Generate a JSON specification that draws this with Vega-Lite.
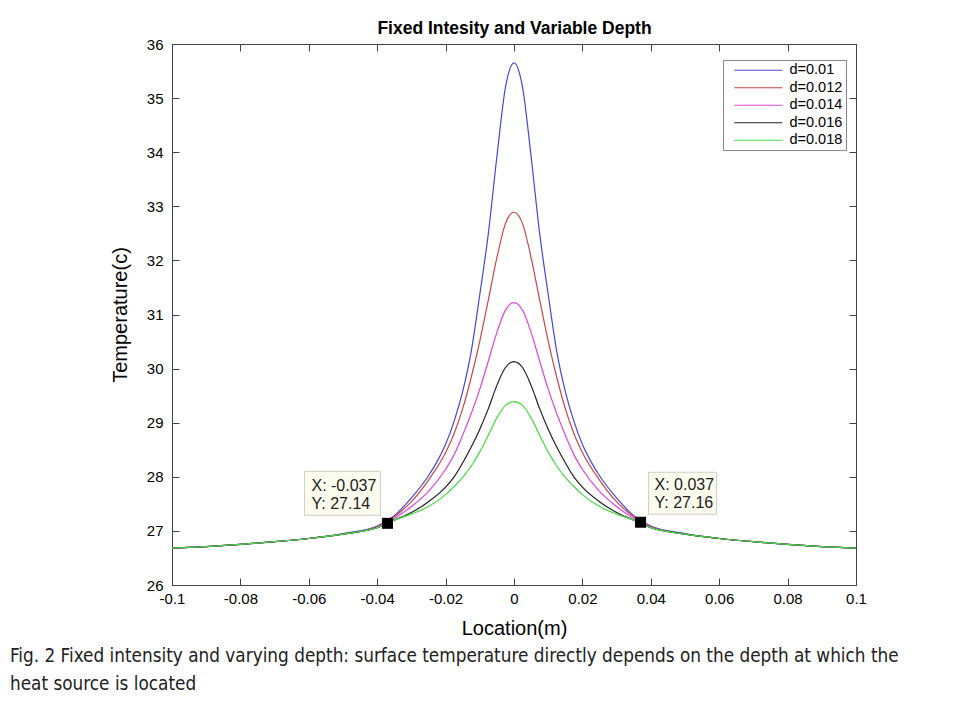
{
  "$schema": "https://vega.github.io/schema/vega-lite/v6.json",
  "width": 684,
  "height": 541,
  "autosize": "none",
  "padding": {"left": 172, "top": 44, "right": 99, "bottom": 119},
  "background": "white",
  "title": {
    "text": ["Fig. 2  Fixed intensity and varying depth: surface temperature directly depends on the depth at which the", "heat source is located"],
    "orient": "bottom", "anchor": "start", "frame": "group", "dx": -162, "offset": 9,
    "font": "Liberation Sans Narrow, DejaVu Sans Condensed, Liberation Sans", "fontSize": 18.8, "fontWeight": "normal", "lineHeight": 28, "color": "#222"
  },
  "datasets": {
    "curves": [
      {"s":"d=0.01","x":-0.1,"t":26.68},{"s":"d=0.01","x":-0.09,"t":26.71},{"s":"d=0.01","x":-0.08,"t":26.75},{"s":"d=0.01","x":-0.07,"t":26.80},{"s":"d=0.01","x":-0.06,"t":26.86},{"s":"d=0.01","x":-0.05,"t":26.95},{"s":"d=0.01","x":-0.04,"t":27.09},{"s":"d=0.01","x":-0.035,"t":27.28},{"s":"d=0.01","x":-0.03,"t":27.61},{"s":"d=0.01","x":-0.025,"t":28.02},{"s":"d=0.01","x":-0.0225,"t":28.28},{"s":"d=0.01","x":-0.02,"t":28.60},{"s":"d=0.01","x":-0.0175,"t":29.03},{"s":"d=0.01","x":-0.015,"t":29.58},{"s":"d=0.01","x":-0.0125,"t":30.32},{"s":"d=0.01","x":-0.01,"t":31.37},{"s":"d=0.01","x":-0.0075,"t":32.50},{"s":"d=0.01","x":-0.005,"t":33.92},{"s":"d=0.01","x":-0.0025,"t":35.20},{"s":"d=0.01","x":0,"t":35.65},{"s":"d=0.01","x":0.0025,"t":35.20},{"s":"d=0.01","x":0.005,"t":33.92},{"s":"d=0.01","x":0.0075,"t":32.50},{"s":"d=0.01","x":0.01,"t":31.37},{"s":"d=0.01","x":0.0125,"t":30.32},{"s":"d=0.01","x":0.015,"t":29.58},{"s":"d=0.01","x":0.0175,"t":29.03},{"s":"d=0.01","x":0.02,"t":28.60},{"s":"d=0.01","x":0.0225,"t":28.28},{"s":"d=0.01","x":0.025,"t":28.02},{"s":"d=0.01","x":0.03,"t":27.61},{"s":"d=0.01","x":0.035,"t":27.28},{"s":"d=0.01","x":0.04,"t":27.09},{"s":"d=0.01","x":0.05,"t":26.95},{"s":"d=0.01","x":0.06,"t":26.86},{"s":"d=0.01","x":0.07,"t":26.80},{"s":"d=0.01","x":0.08,"t":26.75},{"s":"d=0.01","x":0.09,"t":26.71},{"s":"d=0.01","x":0.1,"t":26.68},
      {"s":"d=0.012","x":-0.1,"t":26.68},{"s":"d=0.012","x":-0.09,"t":26.71},{"s":"d=0.012","x":-0.08,"t":26.75},{"s":"d=0.012","x":-0.07,"t":26.80},{"s":"d=0.012","x":-0.06,"t":26.86},{"s":"d=0.012","x":-0.05,"t":26.94},{"s":"d=0.012","x":-0.04,"t":27.08},{"s":"d=0.012","x":-0.035,"t":27.26},{"s":"d=0.012","x":-0.03,"t":27.54},{"s":"d=0.012","x":-0.025,"t":27.94},{"s":"d=0.012","x":-0.02,"t":28.45},{"s":"d=0.012","x":-0.0175,"t":28.80},{"s":"d=0.012","x":-0.015,"t":29.26},{"s":"d=0.012","x":-0.0125,"t":29.84},{"s":"d=0.012","x":-0.01,"t":30.51},{"s":"d=0.012","x":-0.0075,"t":31.27},{"s":"d=0.012","x":-0.005,"t":32.05},{"s":"d=0.012","x":-0.0025,"t":32.68},{"s":"d=0.012","x":0,"t":32.89},{"s":"d=0.012","x":0.0025,"t":32.68},{"s":"d=0.012","x":0.005,"t":32.05},{"s":"d=0.012","x":0.0075,"t":31.27},{"s":"d=0.012","x":0.01,"t":30.51},{"s":"d=0.012","x":0.0125,"t":29.84},{"s":"d=0.012","x":0.015,"t":29.26},{"s":"d=0.012","x":0.0175,"t":28.80},{"s":"d=0.012","x":0.02,"t":28.45},{"s":"d=0.012","x":0.025,"t":27.94},{"s":"d=0.012","x":0.03,"t":27.54},{"s":"d=0.012","x":0.035,"t":27.26},{"s":"d=0.012","x":0.04,"t":27.08},{"s":"d=0.012","x":0.05,"t":26.94},{"s":"d=0.012","x":0.06,"t":26.86},{"s":"d=0.012","x":0.07,"t":26.80},{"s":"d=0.012","x":0.08,"t":26.75},{"s":"d=0.012","x":0.09,"t":26.71},{"s":"d=0.012","x":0.1,"t":26.68},
      {"s":"d=0.014","x":-0.1,"t":26.68},{"s":"d=0.014","x":-0.09,"t":26.71},{"s":"d=0.014","x":-0.08,"t":26.75},{"s":"d=0.014","x":-0.07,"t":26.80},{"s":"d=0.014","x":-0.06,"t":26.86},{"s":"d=0.014","x":-0.05,"t":26.94},{"s":"d=0.014","x":-0.04,"t":27.07},{"s":"d=0.014","x":-0.035,"t":27.23},{"s":"d=0.014","x":-0.03,"t":27.45},{"s":"d=0.014","x":-0.025,"t":27.73},{"s":"d=0.014","x":-0.02,"t":28.14},{"s":"d=0.014","x":-0.0175,"t":28.41},{"s":"d=0.014","x":-0.015,"t":28.77},{"s":"d=0.014","x":-0.0125,"t":29.17},{"s":"d=0.014","x":-0.01,"t":29.62},{"s":"d=0.014","x":-0.0075,"t":30.14},{"s":"d=0.014","x":-0.005,"t":30.67},{"s":"d=0.014","x":-0.0025,"t":31.08},{"s":"d=0.014","x":0,"t":31.22},{"s":"d=0.014","x":0.0025,"t":31.08},{"s":"d=0.014","x":0.005,"t":30.67},{"s":"d=0.014","x":0.0075,"t":30.14},{"s":"d=0.014","x":0.01,"t":29.62},{"s":"d=0.014","x":0.0125,"t":29.17},{"s":"d=0.014","x":0.015,"t":28.77},{"s":"d=0.014","x":0.0175,"t":28.41},{"s":"d=0.014","x":0.02,"t":28.14},{"s":"d=0.014","x":0.025,"t":27.73},{"s":"d=0.014","x":0.03,"t":27.45},{"s":"d=0.014","x":0.035,"t":27.23},{"s":"d=0.014","x":0.04,"t":27.07},{"s":"d=0.014","x":0.05,"t":26.94},{"s":"d=0.014","x":0.06,"t":26.86},{"s":"d=0.014","x":0.07,"t":26.80},{"s":"d=0.014","x":0.08,"t":26.75},{"s":"d=0.014","x":0.09,"t":26.71},{"s":"d=0.014","x":0.1,"t":26.68},
      {"s":"d=0.016","x":-0.1,"t":26.68},{"s":"d=0.016","x":-0.09,"t":26.71},{"s":"d=0.016","x":-0.08,"t":26.75},{"s":"d=0.016","x":-0.07,"t":26.80},{"s":"d=0.016","x":-0.06,"t":26.86},{"s":"d=0.016","x":-0.05,"t":26.94},{"s":"d=0.016","x":-0.04,"t":27.06},{"s":"d=0.016","x":-0.035,"t":27.20},{"s":"d=0.016","x":-0.03,"t":27.34},{"s":"d=0.016","x":-0.025,"t":27.54},{"s":"d=0.016","x":-0.02,"t":27.81},{"s":"d=0.016","x":-0.0175,"t":28.00},{"s":"d=0.016","x":-0.015,"t":28.26},{"s":"d=0.016","x":-0.0125,"t":28.55},{"s":"d=0.016","x":-0.01,"t":28.88},{"s":"d=0.016","x":-0.0075,"t":29.26},{"s":"d=0.016","x":-0.005,"t":29.69},{"s":"d=0.016","x":-0.0025,"t":30.02},{"s":"d=0.016","x":0,"t":30.13},{"s":"d=0.016","x":0.0025,"t":30.02},{"s":"d=0.016","x":0.005,"t":29.69},{"s":"d=0.016","x":0.0075,"t":29.26},{"s":"d=0.016","x":0.01,"t":28.88},{"s":"d=0.016","x":0.0125,"t":28.55},{"s":"d=0.016","x":0.015,"t":28.26},{"s":"d=0.016","x":0.0175,"t":28.00},{"s":"d=0.016","x":0.02,"t":27.81},{"s":"d=0.016","x":0.025,"t":27.54},{"s":"d=0.016","x":0.03,"t":27.34},{"s":"d=0.016","x":0.035,"t":27.20},{"s":"d=0.016","x":0.04,"t":27.06},{"s":"d=0.016","x":0.05,"t":26.94},{"s":"d=0.016","x":0.06,"t":26.86},{"s":"d=0.016","x":0.07,"t":26.80},{"s":"d=0.016","x":0.08,"t":26.75},{"s":"d=0.016","x":0.09,"t":26.71},{"s":"d=0.016","x":0.1,"t":26.68},
      {"s":"d=0.018","x":-0.1,"t":26.68},{"s":"d=0.018","x":-0.09,"t":26.71},{"s":"d=0.018","x":-0.08,"t":26.75},{"s":"d=0.018","x":-0.07,"t":26.80},{"s":"d=0.018","x":-0.06,"t":26.86},{"s":"d=0.018","x":-0.05,"t":26.94},{"s":"d=0.018","x":-0.04,"t":27.06},{"s":"d=0.018","x":-0.035,"t":27.20},{"s":"d=0.018","x":-0.03,"t":27.31},{"s":"d=0.018","x":-0.025,"t":27.45},{"s":"d=0.018","x":-0.02,"t":27.67},{"s":"d=0.018","x":-0.0175,"t":27.82},{"s":"d=0.018","x":-0.015,"t":27.99},{"s":"d=0.018","x":-0.0125,"t":28.20},{"s":"d=0.018","x":-0.01,"t":28.46},{"s":"d=0.018","x":-0.0075,"t":28.77},{"s":"d=0.018","x":-0.005,"t":29.09},{"s":"d=0.018","x":-0.0025,"t":29.32},{"s":"d=0.018","x":0,"t":29.39},{"s":"d=0.018","x":0.0025,"t":29.32},{"s":"d=0.018","x":0.005,"t":29.09},{"s":"d=0.018","x":0.0075,"t":28.77},{"s":"d=0.018","x":0.01,"t":28.46},{"s":"d=0.018","x":0.0125,"t":28.20},{"s":"d=0.018","x":0.015,"t":27.99},{"s":"d=0.018","x":0.0175,"t":27.82},{"s":"d=0.018","x":0.02,"t":27.67},{"s":"d=0.018","x":0.025,"t":27.45},{"s":"d=0.018","x":0.03,"t":27.31},{"s":"d=0.018","x":0.035,"t":27.20},{"s":"d=0.018","x":0.04,"t":27.06},{"s":"d=0.018","x":0.05,"t":26.94},{"s":"d=0.018","x":0.06,"t":26.86},{"s":"d=0.018","x":0.07,"t":26.80},{"s":"d=0.018","x":0.08,"t":26.75},{"s":"d=0.018","x":0.09,"t":26.71},{"s":"d=0.018","x":0.1,"t":26.68}
    ],
    "tips": [
      {"side": "L", "x": -0.037, "t": 27.14, "tip": "X: -0.037\nY: 27.14"},
      {"side": "R", "x": 0.037, "t": 27.16, "tip": "X: 0.037\nY: 27.16"}
    ]
  },
  "layer": [
    {
      "data": {"name": "curves"},
      "mark": {"type": "line", "interpolate": "monotone", "strokeWidth": 1.2},
      "encoding": {
        "x": {"field": "x", "type": "quantitative",
          "scale": {"domain": [-0.1, 0.1], "nice": false, "zero": false},
          "axis": {"orient": "bottom", "values": [-0.1, -0.08, -0.06, -0.04, -0.02, 0, 0.02, 0.04, 0.06, 0.08, 0.1],
            "format": ".2~f",
            "labelExpr": "replace(datum.label, '\u2212', '-')", "labelFlush": false, "labelOverlap": false,
            "tickSize": -7, "labelPadding": 13, "grid": false,
            "title": "Location(m)", "titlePadding": 12}},
        "y": {"field": "t", "type": "quantitative",
          "scale": {"domain": [26, 36], "nice": false, "zero": false},
          "axis": {"orient": "left", "values": [26, 27, 28, 29, 30, 31, 32, 33, 34, 35, 36],
            "tickSize": -7, "labelPadding": 16, "grid": false, "labelFlush": false, "labelOverlap": false,
            "title": "Temperature(c)", "titlePadding": 16}},
        "color": {"field": "s", "type": "nominal",
          "scale": {"domain": ["d=0.01", "d=0.012", "d=0.014", "d=0.016", "d=0.018"],
                    "range": ["#4646dc", "#cc4646", "#dc46dc", "#222222", "#46dc46"]},
          "legend": {"orient": "none", "legendX": 551, "legendY": 16, "title": null,
            "symbolType": "M-4.8,0H4.8", "symbolSize": 100, "symbolStrokeWidth": 1.2,
            "symbolOffset": 25, "labelOffset": 24,
            "labelFont": "Liberation Sans", "labelFontSize": 14.5, "labelColor": "black",
            "strokeColor": "#888", "fillColor": "white", "padding": 3, "rowPadding": 2.5}}
      }
    },
    {
      "data": {"name": "tips"},
      "mark": {"type": "point", "shape": "square", "size": 121, "filled": true, "color": "black", "opacity": 1},
      "encoding": {
        "x": {"field": "x", "type": "quantitative",
          "axis": {"orient": "top", "values": [-0.1, -0.08, -0.06, -0.04, -0.02, 0, 0.02, 0.04, 0.06, 0.08, 0.1],
            "labels": false, "tickSize": -7, "grid": false,
            "title": "Fixed Intesity and Variable Depth", "titleFontWeight": "bold", "titleFontSize": 17.5, "titlePadding": 6}},
        "y": {"field": "t", "type": "quantitative",
          "axis": {"orient": "right", "values": [26, 27, 28, 29, 30, 31, 32, 33, 34, 35, 36],
            "labels": false, "tickSize": -7, "grid": false, "title": null}}
      }
    },
    {
      "data": {"name": "tips"},
      "transform": [{"filter": "datum.side == 'L'"}],
      "mark": {"type": "point", "shape": "M-1,-0.579H1V0.579H-1Z", "size": 5776, "filled": true,
        "fill": "#fbfbee", "stroke": "#cfcfc4", "strokeWidth": 1, "opacity": 1, "xOffset": -45, "yOffset": -30},
      "encoding": {
        "x": {"field": "x", "type": "quantitative", "axis": null},
        "y": {"field": "t", "type": "quantitative", "axis": null}
      }
    },
    {
      "data": {"name": "tips"},
      "transform": [{"filter": "datum.side == 'R'"}],
      "mark": {"type": "point", "shape": "M-1,-0.618H1V0.618H-1Z", "size": 4624, "filled": true,
        "fill": "#fbfbee", "stroke": "#cfcfc4", "strokeWidth": 1, "opacity": 1, "xOffset": 42, "yOffset": -29},
      "encoding": {
        "x": {"field": "x", "type": "quantitative", "axis": null},
        "y": {"field": "t", "type": "quantitative", "axis": null}
      }
    },
    {
      "data": {"name": "tips"},
      "transform": [{"filter": "datum.side == 'L'"}],
      "mark": {"type": "text", "align": "left", "baseline": "top", "lineBreak": "\n", "lineHeight": 18,
        "font": "Liberation Sans", "fontSize": 16, "color": "#222", "xOffset": -76, "yOffset": -45},
      "encoding": {
        "x": {"field": "x", "type": "quantitative", "axis": null},
        "y": {"field": "t", "type": "quantitative", "axis": null},
        "text": {"field": "tip"}
      }
    },
    {
      "data": {"name": "tips"},
      "transform": [{"filter": "datum.side == 'R'"}],
      "mark": {"type": "text", "align": "left", "baseline": "top", "lineBreak": "\n", "lineHeight": 18,
        "font": "Liberation Sans", "fontSize": 16, "color": "#222", "xOffset": 14, "yOffset": -45},
      "encoding": {
        "x": {"field": "x", "type": "quantitative", "axis": null},
        "y": {"field": "t", "type": "quantitative", "axis": null},
        "text": {"field": "tip"}
      }
    }
  ],
  "resolve": {"axis": {"x": "independent", "y": "independent"}},
  "config": {
    "view": {"stroke": null},
    "font": "Liberation Sans",
    "axis": {
      "domainColor": "#444", "tickColor": "#444", "domainWidth": 1, "tickWidth": 1,
      "labelFont": "Liberation Sans", "labelFontSize": 15, "labelColor": "black",
      "titleFont": "Liberation Sans", "titleFontSize": 20, "titleFontWeight": "normal", "titleColor": "black"
    }
  }
}
